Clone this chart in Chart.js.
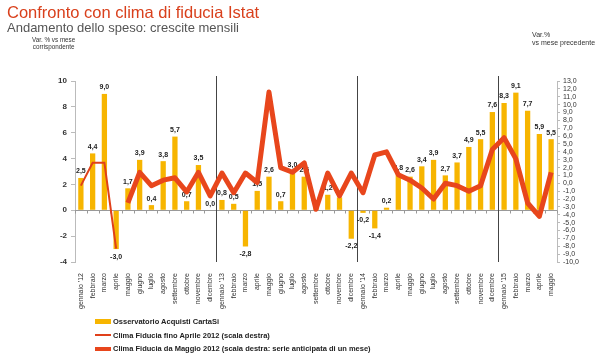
<!DOCTYPE html>
<html>
<head>
<meta charset="utf-8">
<script src="https://cdn.jsdelivr.net/npm/chart.js@4"></script>
<style>
  html, body { margin:0; padding:0; background:#fff; }
  #wrap { position:relative; width:600px; height:360px; overflow:hidden; font-family:"Liberation Sans", Arial, sans-serif; }
  #c { position:absolute; left:0; top:0; }
  .t { position:absolute; white-space:nowrap; }
  #title { left:7px; top:3px; font-size:16.5px; color:#D9401C; }
  #sub { left:7px; top:20px; font-size:13px; color:#555; }
  #nl { left:32px; top:36px; font-size:6.3px; color:#333; text-align:center; line-height:7px; }
  #nr { left:532px; top:31px; font-size:7px; color:#333; line-height:8px; }
  #legend { position:absolute; left:95px; top:315px; font-size:7.5px; font-weight:bold; color:#222; }
  .li { height:13.5px; display:flex; align-items:center; }
  .sw { width:16px; margin-right:2px; }
</style>
</head>
<body>
<div id="wrap">
  <canvas id="c" width="600" height="360"></canvas>
  <div class="t" id="title">Confronto con clima di fiducia Istat</div>
  <div class="t" id="sub">Andamento dello speso: crescite mensili</div>
  <div class="t" id="nl">Var. % vs mese<br>corrispondente</div>
  <div class="t" id="nr">Var.%<br>vs mese precedente</div>
  <div id="legend"></div>
</div>
<script>
const categories = [
  "gennaio '12","febbraio","marzo","aprile","maggio","giugno","luglio","agosto","settembre","ottobre","novembre","dicembre",
  "gennaio '13","febbraio","marzo","aprile","maggio","giugno","luglio","agosto","settembre","ottobre","novembre","dicembre",
  "gennaio '14","febbraio","marzo","aprile","maggio","giugno","luglio","agosto","settembre","ottobre","novembre","dicembre",
  "gennaio '15","febbraio","marzo","aprile","maggio"
];
const acquisti = [
  2.5,4.4,9.0,-3.0,1.7,3.9,0.4,3.8,5.7,0.7,3.5,0.0,
  0.8,0.5,-2.8,1.5,2.6,0.7,3.0,2.6,0.3,1.2,1.0,-2.2,
  -0.2,-1.4,0.2,2.8,2.6,3.4,3.9,2.7,3.7,4.9,5.5,7.6,
  8.3,9.1,7.7,5.9,5.5
];
const fiduciaFinoAprile = [
  -0.3,2.6,2.6,-8.3,null,null,null,null,null,null,null,null,
  null,null,null,null,null,null,null,null,null,null,null,null,
  null,null,null,null,null,null,null,null,null,null,null,null,
  null,null,null,null,null
];
const fiduciaDaMaggio = [
  null,null,null,null,-2.5,1.4,-0.3,0.4,0.7,-1.1,1.4,-1.6,
  1.3,-1.2,1.3,0.1,11.6,2.0,1.4,2.6,-3.3,1.3,-1.6,1.3,
  -1.2,3.6,4.0,1.1,0.4,-0.6,-2.0,0.0,-0.3,-1.0,-0.3,4.3,
  5.8,3.1,-2.5,-4.2,1.4
];
const yearBreaks = [11.5, 23.5, 35.5];
const seriesNames = [
  "Osservatorio Acquisti CartaSi",
  "Clima Fiducia fino Aprile 2012 (scala destra)",
  "Clima Fiducia da Maggio 2012 (scala destra: serie anticipata di un mese)"
];

const fmt = v => v.toFixed(1).replace('.', ',');

const extras = {
  id: 'extras',
  beforeDatasetsDraw(chart) {
    const ctx = chart.ctx, x = chart.scales.x, y = chart.scales.y, a = chart.chartArea;
    ctx.save();
    const y0 = Math.round(y.getPixelForValue(0)) + 0.5;
    ctx.strokeStyle = '#999';
    ctx.lineWidth = 1;
    ctx.beginPath();
    ctx.moveTo(a.left, y0); ctx.lineTo(a.right, y0);
    for (let i = 0; i <= categories.length; i++) {
      const px = Math.round(x.getPixelForValue(i - 0.5)) + 0.5;
      ctx.moveTo(px, y0); ctx.lineTo(px, y0 + 3);
    }
    ctx.stroke();
    ctx.strokeStyle = '#444';
    ctx.beginPath();
    yearBreaks.forEach(b => {
      const px = Math.round(x.getPixelForValue(b)) + 0.5;
      ctx.moveTo(px, a.top - 5); ctx.lineTo(px, a.bottom);
    });
    ctx.stroke();
    ctx.restore();
  },
  afterDatasetDraw(chart, args) {
    if (args.index !== 0) return;
    const ctx = chart.ctx;
    const meta = chart.getDatasetMeta(0);
    ctx.save();
    ctx.font = 'bold 7px "Liberation Sans", Arial, sans-serif';
    ctx.fillStyle = '#222';
    ctx.textAlign = 'center';
    meta.data.forEach((el, i) => {
      const v = acquisti[i];
      if (v >= 0) { ctx.textBaseline = 'bottom'; ctx.fillText(fmt(v), el.x, el.y - 3); }
      else { ctx.textBaseline = 'top'; ctx.fillText(fmt(v), el.x, el.y + 4); }
    });
    ctx.restore();
  }
};

const chart = new Chart(document.getElementById('c'), {
  data: {
    labels: categories,
    datasets: [
      { type: 'bar', label: seriesNames[0], data: acquisti, yAxisID: 'y', order: 3,
        backgroundColor: '#F7B500', categoryPercentage: 1, barPercentage: 0.45 },
      { type: 'line', label: seriesNames[1], data: fiduciaFinoAprile, yAxisID: 'y1', order: 2,
        borderColor: '#E0401A', borderWidth: 2, pointRadius: 0, tension: 0, spanGaps: false },
      { type: 'line', label: seriesNames[2], data: fiduciaDaMaggio, yAxisID: 'y1', order: 1,
        borderColor: '#E8461C', borderWidth: 5, borderJoinStyle: 'round', pointRadius: 0, tension: 0, spanGaps: false }
    ]
  },
  options: {
    responsive: false,
    animation: false,
    layout: { padding: { top: 81, left: 0, right: 0, bottom: 0 } },
    plugins: { legend: { display: false }, tooltip: { enabled: false } },
    scales: {
      x: {
        offset: true,
        grid: { display: false },
        border: { display: false },
        ticks: { autoSkip: false, minRotation: 90, maxRotation: 90, padding: 3,
                 color: '#333', font: { size: 7, family: '"Liberation Sans", Arial, sans-serif' } },
        afterFit(s) { s.height = 98; }
      },
      y: {
        position: 'left', min: -4, max: 10,
        ticks: { stepSize: 2, padding: 4, color: '#333',
                 font: { size: 8, weight: 'bold', family: '"Liberation Sans", Arial, sans-serif' } },
        grid: { drawOnChartArea: false, tickLength: 4, color: '#bbb' },
        border: { color: '#bbb' },
        afterFit(s) { s.width = 75; }
      },
      y1: {
        position: 'right', min: -10, max: 13,
        ticks: { stepSize: 1, autoSkip: false, padding: 3, color: '#333', callback: v => fmt(v),
                 font: { size: 7, family: '"Liberation Sans", Arial, sans-serif' } },
        grid: { drawOnChartArea: false, tickLength: 3, color: '#bbb' },
        border: { color: '#bbb' },
        afterFit(s) { s.width = 43; }
      }
    }
  },
  plugins: [extras]
});

const leg = document.getElementById('legend');
chart.data.datasets.forEach(ds => {
  const row = document.createElement('div'); row.className = 'li';
  const sw = document.createElement('span'); sw.className = 'sw';
  if (ds.type === 'bar') { sw.style.height = '5px'; sw.style.background = ds.backgroundColor; }
  else { sw.style.height = ds.borderWidth === 5 ? '4px' : '2px'; sw.style.background = ds.borderColor; }
  const tx = document.createElement('span'); tx.textContent = ds.label;
  row.appendChild(sw); row.appendChild(tx); leg.appendChild(row);
});
</script>
</body>
</html>
